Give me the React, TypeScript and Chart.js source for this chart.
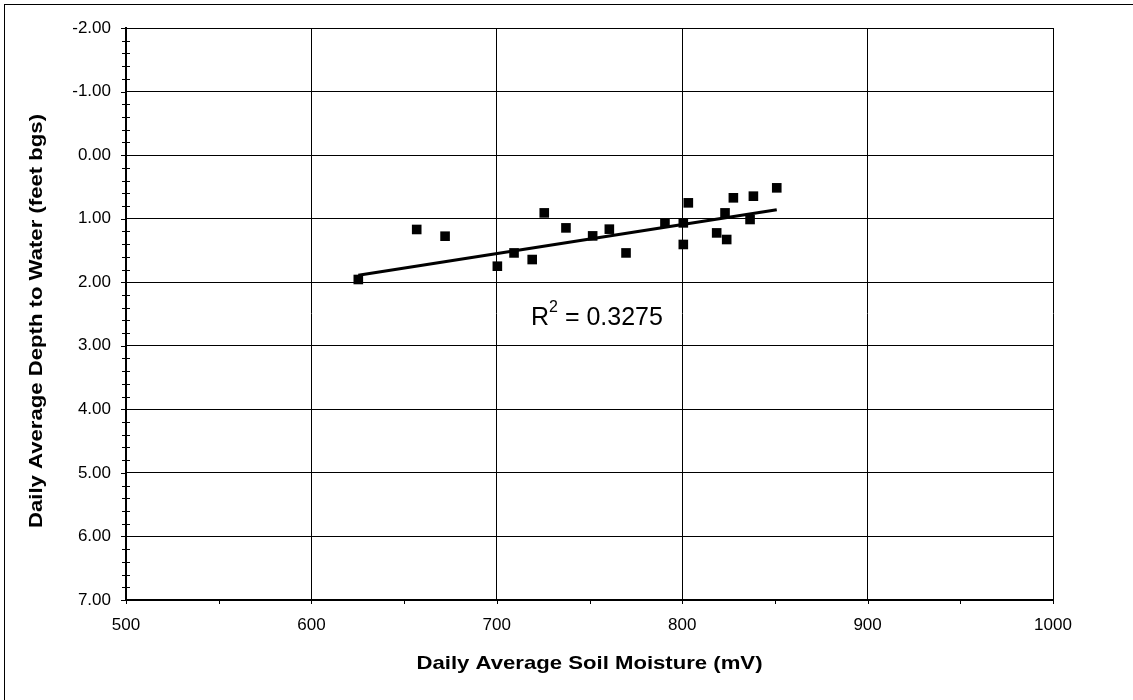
import React, { useEffect, useRef } from "react";
import { Chart, registerables } from "chart.js";

Chart.register(...registerables);

const soilMoisture = [625.3, 656.8, 672.1, 700.3, 709.3, 719.1, 725.6, 737.3, 751.7, 760.7, 769.7, 790.7, 800.6, 800.6, 803.3, 818.6, 823.1, 824.0, 827.6, 836.6, 838.4, 851.0];
const depthToWater = [1.957, 1.17, 1.276, 1.748, 1.539, 1.643, 0.909, 1.145, 1.271, 1.165, 1.539, 1.066, 1.066, 1.406, 0.751, 1.224, 0.909, 1.328, 0.672, 1.013, 0.646, 0.515];

const trendMoisture = [625.3, 851.0];
const trendDepth = [1.89, 0.86];

const rSquared = "0.3275";
const xTitle = "Daily Average Soil Moisture (mV)";
const yTitle = "Daily Average Depth to Water (feet bgs)";

const X_MIN = 500;
const X_MAX = 1000;
const X_STEP = 100;
const X_MINOR = 50;
const Y_MIN = -2;
const Y_MAX = 7;
const Y_STEP = 1;
const Y_MINOR = 0.2;

const FONT = '"Liberation Sans", Arial, sans-serif';

export default function App() {
  const ref = useRef<HTMLCanvasElement>(null);

  useEffect(() => {
    if (!ref.current) return;

    const decor = {
      id: "decor",
      beforeDraw(chart: any) {
        const ctx = chart.ctx;
        ctx.save();
        ctx.fillStyle = "#fff";
        ctx.fillRect(0, 0, chart.width, chart.height);
        ctx.strokeStyle = "#000";
        ctx.lineWidth = 1;
        ctx.strokeRect(4.5, 4.5, chart.width + 50, chart.height + 50);
        ctx.restore();
      },
      afterDraw(chart: any) {
        const ctx = chart.ctx;
        const xs = chart.scales.x;
        const ys = chart.scales.y;
        const area = chart.chartArea;
        ctx.save();
        ctx.strokeStyle = "#000";
        ctx.lineWidth = 1;
        const nY = Math.round((Y_MAX - Y_MIN) / Y_MINOR);
        for (let i = 0; i <= nY; i++) {
          const v = Y_MIN + i * Y_MINOR;
          const py = Math.round(ys.getPixelForValue(v)) + 0.5;
          const major = i % Math.round(Y_STEP / Y_MINOR) === 0;
          ctx.beginPath();
          if (major) {
            ctx.moveTo(area.left - 5, py);
            ctx.lineTo(area.left, py);
          } else {
            ctx.moveTo(area.left - 4, py);
            ctx.lineTo(area.left + 4, py);
          }
          ctx.stroke();
        }
        const nX = Math.round((X_MAX - X_MIN) / X_MINOR);
        for (let i = 0; i <= nX; i++) {
          const v = X_MIN + i * X_MINOR;
          const px = Math.round(xs.getPixelForValue(v)) + 0.5;
          ctx.beginPath();
          ctx.moveTo(px, area.bottom);
          ctx.lineTo(px, area.bottom + 4);
          ctx.stroke();
        }
        // axis titles (slightly wide bold lettering as in the reference)
        ctx.fillStyle = "#000";
        ctx.font = `bold 19px ${FONT}`;
        ctx.textAlign = "center";
        ctx.textBaseline = "alphabetic";
        const xw = ctx.measureText(xTitle).width;
        const stretch = 346 / xw;
        ctx.save();
        ctx.translate((area.left + area.right) / 2, 669);
        ctx.scale(stretch, 1);
        ctx.fillText(xTitle, 0, 0);
        ctx.restore();
        ctx.save();
        ctx.translate(42, 321);
        ctx.rotate(-Math.PI / 2);
        ctx.scale(stretch, 1);
        ctx.fillText(yTitle, 0, 0);
        ctx.restore();
        // R squared label
        ctx.textAlign = "left";
        let tx = 531;
        ctx.font = `25px ${FONT}`;
        ctx.fillText("R", tx, 325);
        tx += ctx.measureText("R").width;
        ctx.font = `16px ${FONT}`;
        ctx.fillText("2", tx, 312);
        tx += ctx.measureText("2").width;
        ctx.font = `25px ${FONT}`;
        ctx.fillText(" = " + rSquared, tx, 325);
        ctx.restore();
      },
    };

    const points = soilMoisture.map((x, i) => ({ x, y: depthToWater[i] }));
    const trend = trendMoisture.map((x, i) => ({ x, y: trendDepth[i] }));

    const chart = new Chart(ref.current, {
      type: "scatter",
      data: {
        datasets: [
          {
            type: "line",
            data: trend,
            borderColor: "#000",
            borderWidth: 3,
            pointRadius: 0,
            fill: false,
            order: 2,
          } as any,
          {
            type: "scatter",
            data: points,
            pointStyle: "rect",
            pointRadius: 6.8,
            backgroundColor: "#000",
            borderColor: "#000",
            borderWidth: 0,
            order: 1,
          } as any,
        ],
      },
      options: {
        responsive: false,
        animation: false,
        layout: { padding: { left: 0, top: 28, right: 80, bottom: 0 } },
        plugins: { legend: { display: false }, tooltip: { enabled: false } },
        scales: {
          x: {
            type: "linear",
            min: X_MIN,
            max: X_MAX,
            afterFit: (s: any) => {
              s.height = 100;
            },
            ticks: {
              stepSize: X_STEP,
              padding: 15,
              color: "#000",
              font: { family: FONT, size: 17 },
              callback: (v: any) => String(v),
            },
            grid: { color: "#000", lineWidth: 1, drawTicks: false },
            border: { color: "#000", width: 2 },
          },
          y: {
            type: "linear",
            min: Y_MIN,
            max: Y_MAX,
            reverse: true,
            afterFit: (s: any) => {
              s.width = 126;
            },
            ticks: {
              stepSize: Y_STEP,
              padding: 15,
              color: "#000",
              font: { family: FONT, size: 17 },
              callback: (v: any) => Number(v).toFixed(2),
            },
            grid: { color: "#000", lineWidth: 1, drawTicks: false },
            border: { color: "#000", width: 2 },
          },
        },
      },
      plugins: [decor],
    });
    return () => chart.destroy();
  }, []);

  return (
    <div style={{ position: "fixed", left: 0, top: 0, width: 1133, height: 700, background: "#fff" }}>
      <canvas ref={ref} width={1133} height={700} style={{ display: "block" }} />
    </div>
  );
}
